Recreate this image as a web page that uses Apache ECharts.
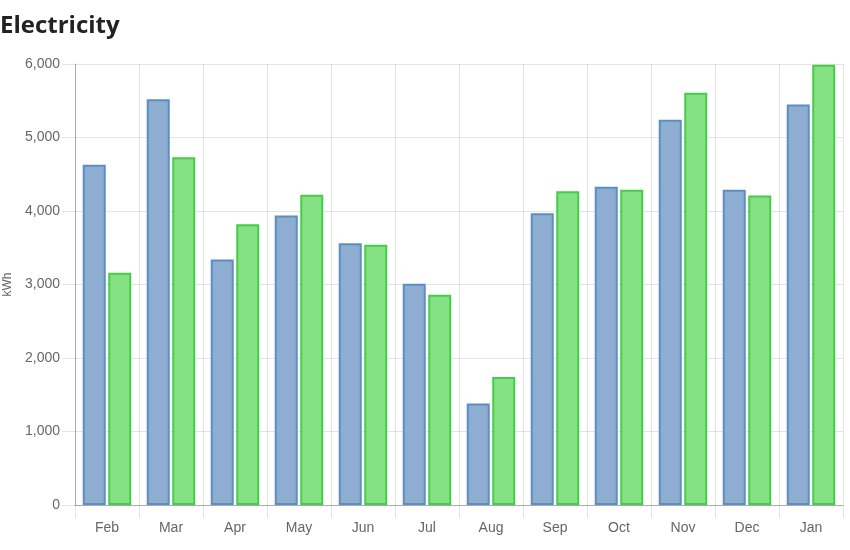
<!DOCTYPE html>
<html>
<head>
<meta charset="utf-8">
<script src="https://cdn.jsdelivr.net/npm/echarts@6/dist/echarts.min.js"></script>
<style>
html,body{margin:0;padding:0;background:#fff;}
#chart{width:850px;height:550px;}
</style>
</head>
<body>
<div id="chart"></div>
<script>
var titleText = 'Electricity';
var yAxisName = 'kWh';
var categories = ['Feb','Mar','Apr','May','Jun','Jul','Aug','Sep','Oct','Nov','Dec','Jan'];
var seriesBlue = [4630, 5520, 3340, 3940, 3560, 3010, 1380, 3970, 4330, 5240, 4290, 5450];
var seriesGreen = [3160, 4730, 3820, 4220, 3540, 2860, 1740, 4270, 4290, 5610, 4210, 5990];

var chart = echarts.init(document.getElementById('chart'), null, {renderer: 'canvas'});
var gridColor = 'rgba(0,0,0,0.1)';
var axisColor = 'rgba(0,0,0,0.25)';
chart.setOption({
  animation: false,
  title: {
    text: titleText,
    left: -5,
    top: 9,
    textStyle: {fontFamily: 'Open Sans', fontWeight: 'bold', fontSize: 24, color: '#222'}
  },
  grid: {left: 75, right: 7, top: 64, bottom: 45, containLabel: false, outerBoundsMode: 'none'},
  xAxis: {
    type: 'category',
    data: categories,
    boundaryGap: true,
    axisLine: {show: true, lineStyle: {color: axisColor, width: 1}},
    axisTick: {show: true, length: 13, alignWithLabel: false, lineStyle: {color: gridColor}},
    splitLine: {show: true, lineStyle: {color: gridColor}},
    axisLabel: {fontFamily: 'Liberation Sans', fontSize: 14, color: '#666', margin: 16}
  },
  yAxis: {
    type: 'value',
    min: 0,
    max: 6000,
    interval: 1000,
    name: yAxisName,
    nameLocation: 'middle',
    nameRotate: 90,
    nameGap: 61,
    nameTextStyle: {fontFamily: 'Liberation Sans', fontSize: 12, color: '#666'},
    axisLine: {show: true, lineStyle: {color: axisColor}},
    axisTick: {show: true, length: 13, lineStyle: {color: gridColor}},
    splitLine: {show: true, lineStyle: {color: gridColor}},
    axisLabel: {
      fontFamily: 'Liberation Sans', fontSize: 14, color: '#666', margin: 15,
      formatter: function (v) { return v.toLocaleString('en-US'); }
    }
  },
  series: [
    {
      type: 'bar',
      data: seriesBlue,
      barWidth: 23,
      barGap: '11%',
      itemStyle: {color: '#8daed0', borderColor: '#5b8ec4', borderWidth: 2}
    },
    {
      type: 'bar',
      data: seriesGreen,
      barWidth: 23,
      barGap: '11%',
      itemStyle: {color: '#84e184', borderColor: '#46cc46', borderWidth: 2}
    }
  ]
});
</script>
</body>
</html>
